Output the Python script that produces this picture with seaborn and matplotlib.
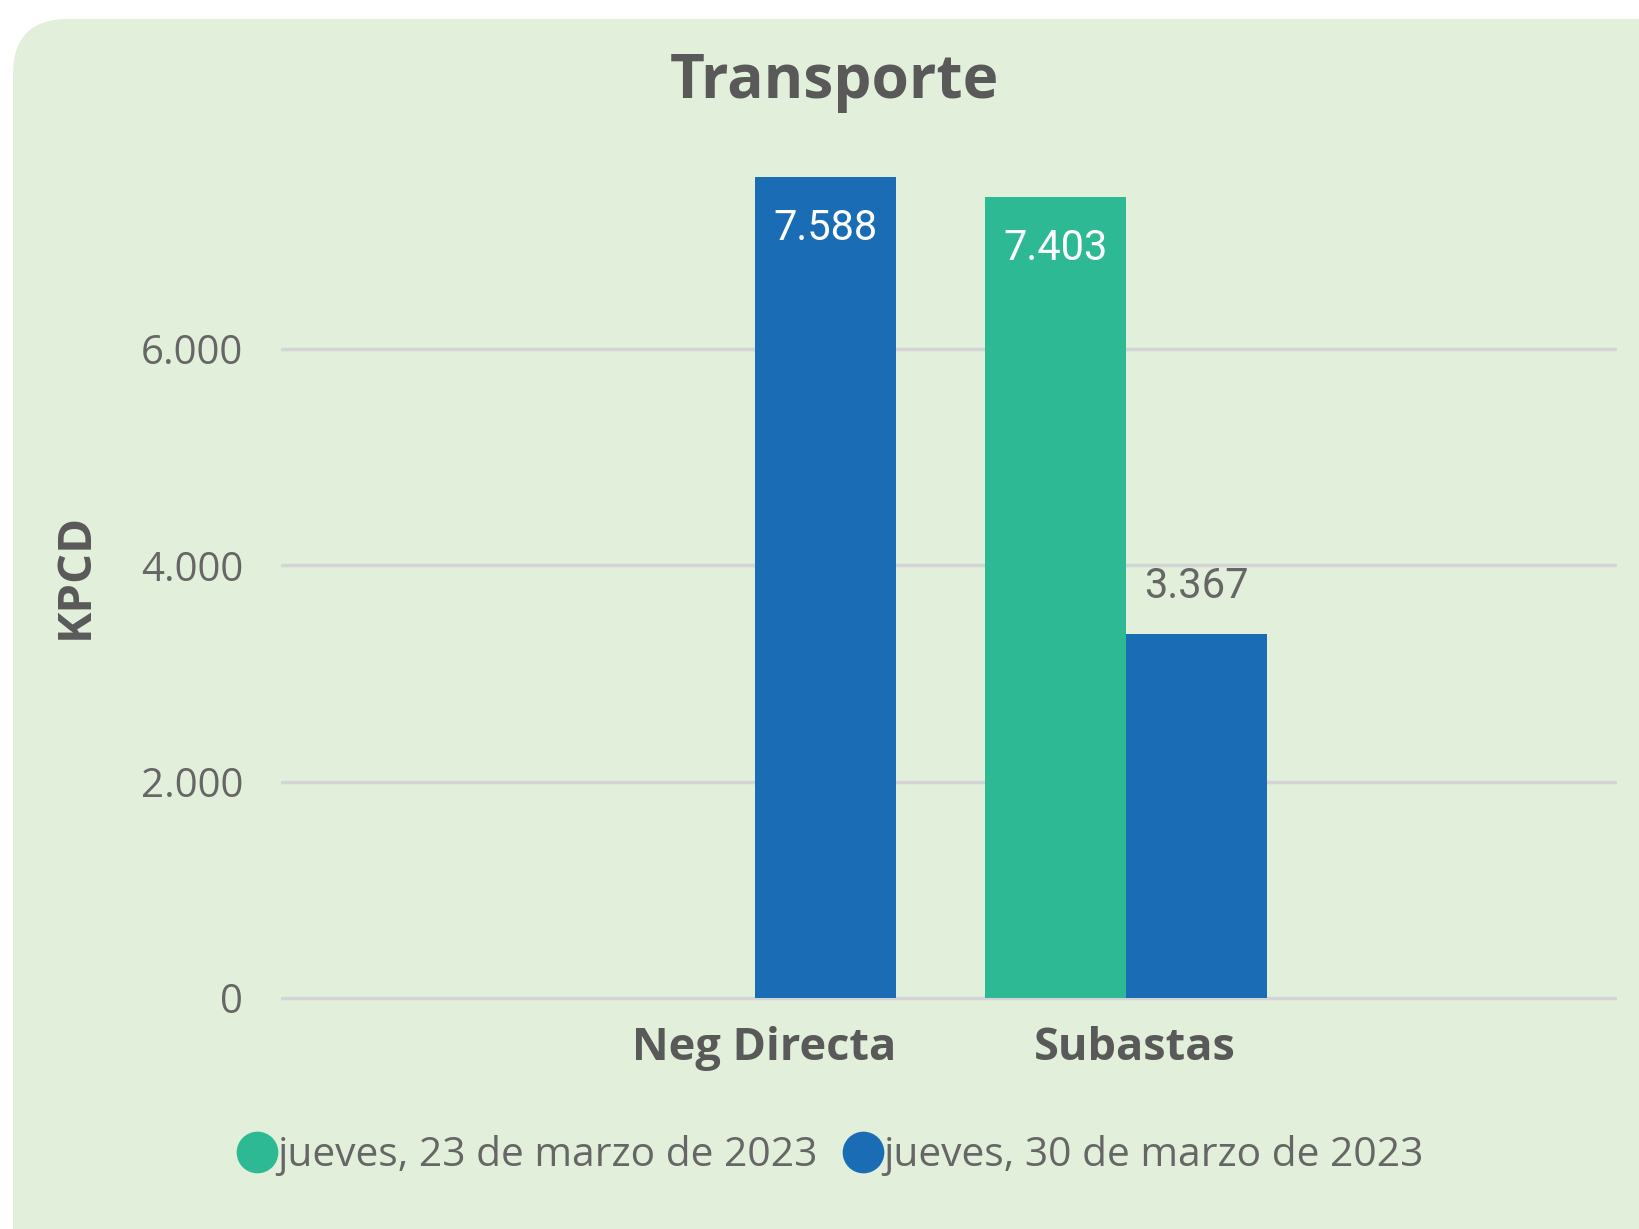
import pandas as pd
import numpy as np
import matplotlib.pyplot as plt
import matplotlib.transforms as mtransforms
import seaborn as sns
from matplotlib.patches import FancyBboxPatch
from matplotlib.lines import Line2D

# Chart data
categories = ['Neg Directa', 'Subastas']
series_names = ['jueves, 23 de marzo de 2023', 'jueves, 30 de marzo de 2023']
values_23 = [np.nan, 7403]
values_30 = [7588, 3367]
y_ticks = [0, 2000, 4000, 6000]
y_tick_labels = ['0', '2.000', '4.000', '6.000']

colors = ['#2DB994', '#1A6DB5']
bg = '#E2EFDA'
text_dark = '#595959'
text_mid = '#666666'

df = pd.DataFrame({
    'categoria': categories * 2,
    'fecha': [series_names[0]] * 2 + [series_names[1]] * 2,
    'valor': values_23 + values_30,
})

sns.set_theme(style='white')
plt.rcParams['font.family'] = ['Open Sans', 'DejaVu Sans']

fig = plt.figure(figsize=(16.4, 12.29), dpi=100)
fig.patch.set_facecolor('white')

# rounded panel background
panel = FancyBboxPatch((0.13, -0.6), 16.8, 12.10 + 0.6, boxstyle='round,pad=0,rounding_size=0.55',
                       transform=fig.dpi_scale_trans, facecolor=bg, edgecolor='none', zorder=-5)
fig.patches.append(panel)

ax = fig.add_axes([0.172, 0.188, 0.813, 0.6864])
ax.set_facecolor('none')
ax.set_zorder(2)

sns.barplot(data=df, x='categoria', y='valor', hue='fecha', hue_order=series_names,
            palette=colors, width=0.76, saturation=1, legend=False, ax=ax, zorder=3,
            linewidth=0, edgecolor='none')

ax.set_ylim(0, 7800)
ax.set_xlim(-1.275, 2.318)
ax.set_yticks(y_ticks)
ax.set_yticklabels(y_tick_labels, fontsize=29, color=text_mid)
ax.tick_params(axis='y', length=0, pad=28)
ax.tick_params(axis='x', length=0, pad=20)
shift = mtransforms.ScaledTranslation(0.085, 0, fig.dpi_scale_trans)
for lbl in ax.get_xticklabels():
    lbl.set_fontsize(32.5)
    lbl.set_fontweight('bold')
    lbl.set_color(text_dark)
    lbl.set_transform(lbl.get_transform() + shift)
ax.grid(axis='y', color='#D4D4D4', linewidth=2.5, zorder=0)
for line in ax.get_ygridlines():
    line.set_clip_on(False)
ax.set_axisbelow(True)
for s in ax.spines.values():
    s.set_visible(False)
ax.set_xlabel('')
ax.set_ylabel('KPCD', fontsize=34, fontweight='bold', color=text_dark, labelpad=30)

# data labels
for container in ax.containers:
    for bar in container:
        h = bar.get_height()
        if np.isnan(h) or h == 0:
            continue
        cx = bar.get_x() + bar.get_width() / 2
        label = f'{int(h):,}'.replace(',', '.')
        if h > 5000:
            ax.annotate(label, (cx, h), xytext=(0, -51), textcoords='offset pixels',
                        ha='center', va='center', fontsize=30, color='white',
                        family=['Roboto', 'DejaVu Sans'], zorder=5)
        else:
            ax.annotate(label, (cx, h), xytext=(0, 47), textcoords='offset pixels',
                        ha='center', va='center', fontsize=30, color=text_mid,
                        family=['Roboto', 'DejaVu Sans'], zorder=5)

fig.text(0.509, 0.933, 'Transporte', ha='center', va='center', fontsize=43.5,
         fontweight='bold', color=text_dark)

handles = [Line2D([], [], marker='o', linestyle='', markersize=29, color=c) for c in colors]
fig.legend(handles, series_names, loc='center', bbox_to_anchor=(0.505, 0.060), ncol=2,
           frameon=False, fontsize=29.3, labelcolor=text_mid, handletextpad=-0.1,
           columnspacing=0.5, handlelength=1.2)

fig.savefig('out.png', dpi=100, facecolor=fig.get_facecolor())
